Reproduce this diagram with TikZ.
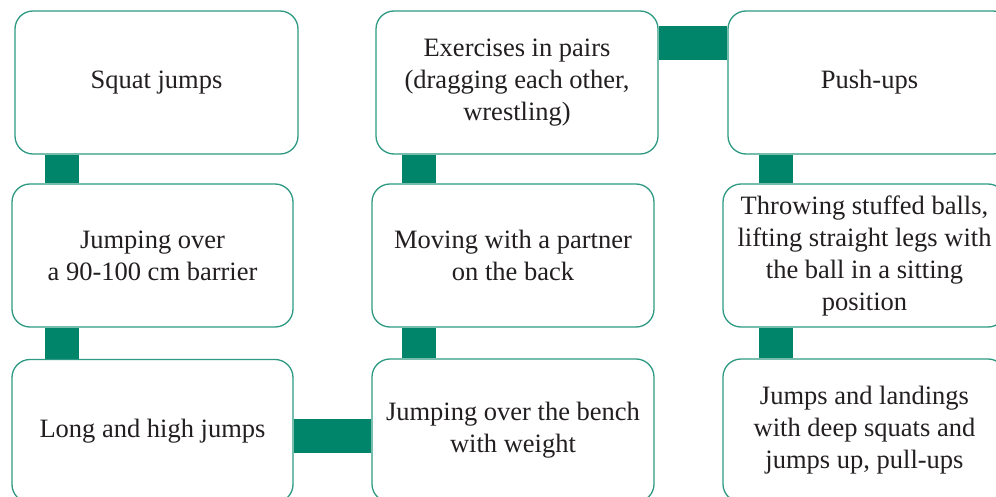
\documentclass[tikz,border=0pt]{standalone}
\usepackage{fontspec}
\setmainfont{Liberation Serif}
\usetikzlibrary{backgrounds}
\definecolor{boxline}{HTML}{2E9A83}
\definecolor{connfill}{HTML}{00846A}
\definecolor{txt}{HTML}{231F20}
\begin{document}
\begin{tikzpicture}[x=1pt,y=-1pt,
  box/.style={draw=boxline, line width=1.3pt, fill=white, rounded corners=18pt,
    minimum width=282pt, minimum height=143pt, inner sep=0pt, align=center,
    text=txt, font=\rmfamily\fontsize{26.5}{32}\selectfont},
  conn/.style={draw=connfill, line width=34pt}]
\useasboundingbox (0,0) rectangle (996,497);
\coordinate (x1) at (62,0);
\coordinate (x2) at (419,0);
\coordinate (x3) at (776,0);
\coordinate (yb) at (0,436);
\coordinate (yt) at (0,43);
\path (156.5,82.5) coordinate (pb1) (152.5,255.5) coordinate (pb2) (152.5,431) coordinate (pb3)
      (517,82.5) coordinate (pc1) (513,255.5) coordinate (pc2) (513,430.5) coordinate (pc3)
      (869.5,82.5) coordinate (pd1) (864.5,255.5) coordinate (pd2) (864.5,430.5) coordinate (pd3);
\node[box, minimum width=283pt] (b1) at (pb1) {Squat jumps};
\node[box, minimum width=281pt] (b2) at (pb2) {Jumping over\\a 90-100 cm barrier};
\node[box, minimum width=281pt] (b3) at (pb3) {Long and high jumps};
\node[box] (c1) at (pc1) {Exercises in pairs\\(dragging each other,\\wrestling)};
\node[box] (c2) at (pc2) {Moving with a partner\\on the back};
\node[box] (c3) at (pc3) {Jumping over the bench\\with weight};
\node[box, minimum width=283pt] (d1) at (pd1) {Push-ups};
\node[box, minimum width=283pt] (d2) at (pd2) {Throwing stuffed balls,\\lifting straight legs with\\the ball in a sitting\\position};
\node[box, minimum width=283pt] (d3) at (pd3) {Jumps and landings\\with deep squats and\\jumps up, pull-ups};
\begin{scope}[on background layer]
\draw[conn] (b1.south -| x1) -- (b2.north -| x1);
\draw[conn] (b2.south -| x1) -- (b3.north -| x1);
\draw[conn] (b3.east |- yb) -- (c3.west |- yb);
\draw[conn] (c1.south -| x2) -- (c2.north -| x2);
\draw[conn] (c2.south -| x2) -- (c3.north -| x2);
\draw[conn] (c1.east |- yt) -- (d1.west |- yt);
\draw[conn] (d1.south -| x3) -- (d2.north -| x3);
\draw[conn] (d2.south -| x3) -- (d3.north -| x3);
\end{scope}
\end{tikzpicture}
\end{document}
